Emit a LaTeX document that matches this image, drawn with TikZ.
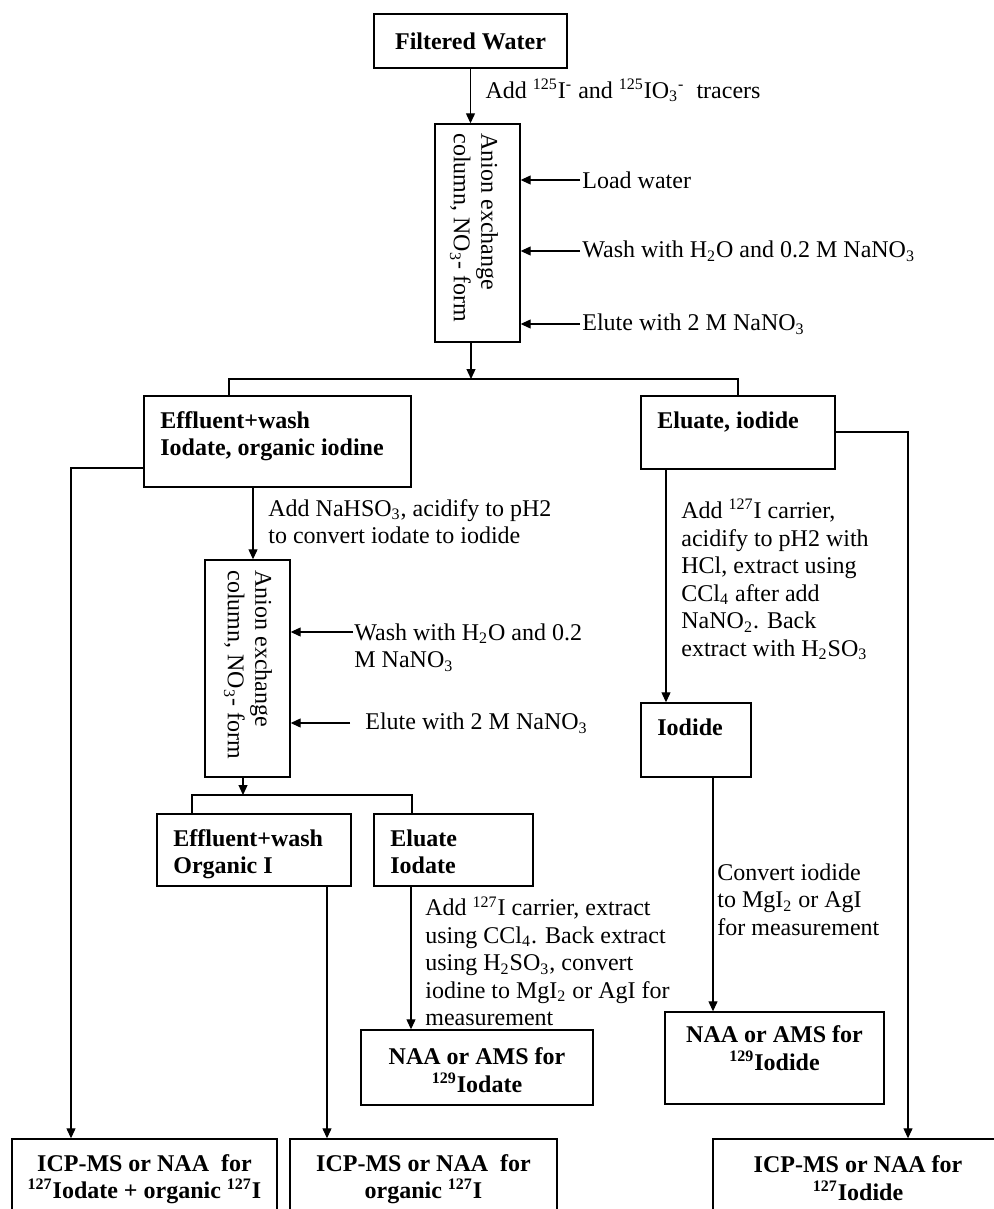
\documentclass[tikz,border=0pt]{standalone}
\usepackage{fontspec}
\setmainfont{Liberation Serif}
\usetikzlibrary{arrows.meta}
\usetikzlibrary{fit}
\usetikzlibrary{positioning}

\tikzset{
  box/.style={draw, line width=0.7pt, inner sep=0pt},
  flow/.style={line width=0.6pt, -{Triangle[length=5pt,width=4.5pt]}},
  link/.style={line width=0.6pt},
  note/.style={inner sep=0pt, align=left, font=\fontsize{12}{13.75}\selectfont},
  head/.style={note, font=\fontsize{12}{13.75}\selectfont\bfseries},
}
% box from corner to corner, in pixels of the scan
\newcommand\stage[5]{
  \node[box, fit={(#2,#3) (#4,#5)}] (#1) {};
}
\newcommand\nsub[1]{\textsubscript{#1}}
\newcommand\nsup[1]{\textsuperscript{#1}}

\begin{document}
\begin{tikzpicture}[x=0.5pt,y=-0.5pt]
  \useasboundingbox (0,0) rectangle (994,1209);
  \clip (0,0) rectangle (994,1209);

  % water and first column
  \stage{water}{374}{14}{567}{68}
  \node[head] at (water.center) {Filtered Water};
  \stage{colA}{435}{124}{520}{342}
  \node[note, rotate=-90, anchor=west] at (474,133) {Anion exchange\\column, NO\nsub{3}- form};
  \draw[flow] (water.south) -- (water.south |- colA.north)
    node[note, anchor=west, pos=0.4, xshift=7.25pt] {Add \nsup{125}I\nsup{-} and \nsup{125}IO\nsub{3}\nsup{-}\ \ tracers};

  \foreach \y/\txt [count=\i] in {180/Load water, 251/Wash with H\nsub{2}O and 0.2 M NaNO\nsub{3}, 324/Elute with 2 M NaNO\nsub{3}} {
    \coordinate (feedA\i) at (580,\y);
    \draw[flow] (feedA\i) -- (feedA\i -| colA.east);
    \node[note, anchor=west] at ([xshift=1pt]feedA\i) {\txt};
  }

  % first split
  \stage{effA}{144}{396}{411}{487}
  \node[head, anchor=north west] at (160,411) {Effluent+wash\\Iodate, organic iodine};
  \stage{eluA}{641}{396}{835}{469}
  \node[head, anchor=north west] at (657,411) {Eluate, iodide};

  \coordinate (splitA) at (471,379);
  \coordinate (forkAL) at (229,379);
  \coordinate (forkAR) at (738,379);
  \draw[flow] (colA.south -| splitA) -- (splitA);
  \draw[link] (forkAL |- effA.north) -- (forkAL) -- (forkAR) -- (forkAR |- eluA.north);

  % second column
  \stage{colB}{205}{560}{290}{777}
  \node[note, rotate=-90, anchor=west] at (248,570) {Anion exchange\\column, NO\nsub{3}- form};
  \coordinate (dropB) at (253,520);
  \draw[flow] (effA.south -| dropB) -- (colB.north -| dropB);
  \node[note, anchor=north west] at (268,499) {Add NaHSO\nsub{3}, acidify to pH2\\to convert iodate to iodide};

  \coordinate (feedB1) at (353,632);
  \coordinate (feedB2) at (350,723);
  \draw[flow] (feedB1) -- (feedB1 -| colB.east);
  \draw[flow] (feedB2) -- (feedB2 -| colB.east);
  \node[note, anchor=north west] at (354,623) {Wash with H\nsub{2}O and 0.2\\M NaNO\nsub{3}};
  \node[note, anchor=west] at (365,723) {Elute with 2 M NaNO\nsub{3}};

  % second split
  \stage{orgB}{157}{814}{351}{886}
  \node[head, anchor=north west] at (173,829) {Effluent+wash\\Organic I};
  \stage{eluB}{374}{814}{533}{886}
  \node[head, anchor=north west] at (390,829) {Eluate\\Iodate};

  \coordinate (splitB) at (243,795);
  \coordinate (forkBL) at (192,795);
  \coordinate (forkBR) at (412,795);
  \draw[flow] (colB.south -| splitB) -- (splitB);
  \draw[link] (forkBL |- orgB.north) -- (forkBL) -- (forkBR) -- (forkBR |- eluB.north);

  % iodate measurement
  \stage{naaB}{361}{1030}{593}{1105}
  \node[head, align=center] at (477,1070) {NAA or AMS for\\\nsup{129}Iodate};
  \coordinate (dropD) at (411,950);
  \draw[flow] (eluB.south -| dropD) -- (naaB.north -| dropD);
  \node[note, anchor=north west] at (425,896) {Add \nsup{127}I carrier, extract\\using CCl\nsub{4}. Back extract\\using H\nsub{2}SO\nsub{3}, convert\\iodine to MgI\nsub{2} or AgI for\\measurement};

  % iodide branch
  \stage{iodC}{641}{703}{751}{777}
  \node[head, anchor=north west] at (657,718) {Iodide};
  \coordinate (dropE) at (666,600);
  \draw[flow] (eluA.south -| dropE) -- (iodC.north -| dropE);
  \node[note, anchor=north west] at (681,499) {Add \nsup{127}I carrier,\\acidify to pH2 with\\HCl, extract using\\CCl\nsub{4} after add\\NaNO\nsub{2}. Back\\extract with H\nsub{2}SO\nsub{3}};

  \stage{naaC}{665}{1012}{884}{1104}
  \node[head, align=center] at (774.5,1048) {NAA or AMS for\\\nsup{129}Iodide};
  \coordinate (dropF) at (713,900);
  \draw[flow] (iodC.south -| dropF) -- (naaC.north -| dropF);
  \node[note, anchor=north west] at (717,863) {Convert iodide\\to MgI\nsub{2} or AgI\\for measurement};

  % stable iodine measurements
  \stage{icpA}{12}{1139}{277}{1215}
  \node[head, align=center] at (144.5,1179) {ICP-MS or NAA\ \ for\\\nsup{127}Iodate + organic \nsup{127}I};
  \stage{icpB}{290}{1139}{557}{1215}
  \node[head, align=center] at (423.5,1179) {ICP-MS or NAA\ \ for\\organic \nsup{127}I};
  \stage{icpC}{713}{1139}{1003}{1215}
  \node[head, align=center] at (858,1178) {ICP-MS or NAA for\\\nsup{127}Iodide};

  \coordinate (turnL) at (71,468);
  \coordinate (turnR) at (908,432);
  \coordinate (dropG) at (327,1000);
  \draw[flow] (turnL -| effA.west) -- (turnL) -- (turnL |- icpA.north);
  \draw[flow] (turnR -| eluA.east) -- (turnR) -- (turnR |- icpC.north);
  \draw[flow] (orgB.south -| dropG) -- (icpB.north -| dropG);
\end{tikzpicture}
\end{document}
